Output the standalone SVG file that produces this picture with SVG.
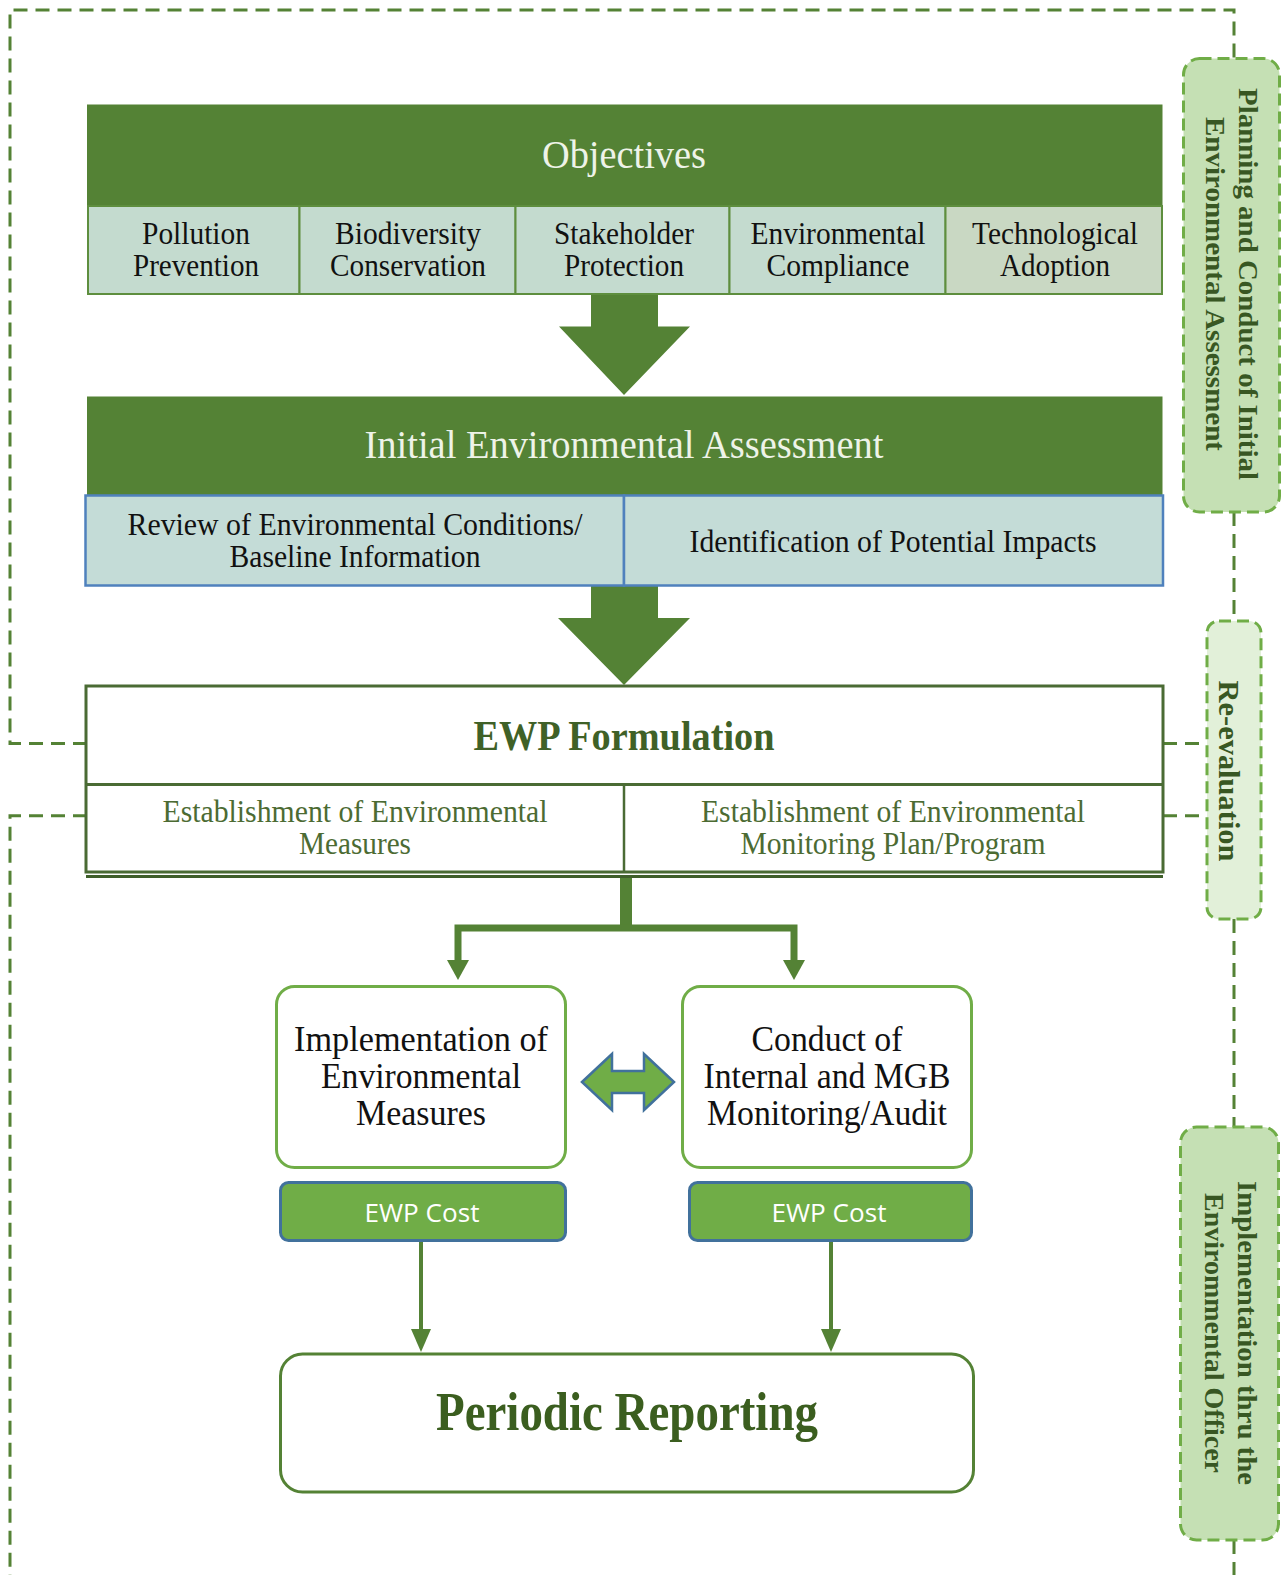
<svg xmlns="http://www.w3.org/2000/svg" width="1282" height="1575" viewBox="0 0 1282 1575">
<defs>
<style>
.serif{font-family:"Liberation Serif","Times New Roman",serif;}
.sans{font-family:"Open Sans","Liberation Sans",sans-serif;}
.c{text-anchor:middle;dominant-baseline:central;}
.hdr{fill:#548235;}
.cell{fill:#C4DBCF;stroke:#5E8E3E;stroke-width:2;}
.bcell{fill:#C4DCD7;stroke:#4F81BD;stroke-width:2.5;}
.dash{fill:none;stroke:#548235;stroke-width:3;stroke-dasharray:14 8;}
.side{stroke:#70AD47;stroke-width:3;stroke-dasharray:12 6;}
.stxt{font-family:"Liberation Serif","Times New Roman",serif;font-weight:bold;fill:#385723;}
.cost{fill:#70AD47;stroke:#41719C;stroke-width:3;}
.rbox{fill:#fff;stroke:#70AD47;stroke-width:3;}
.conn{stroke:#548235;fill:none;}
</style>
</defs>
<rect width="1282" height="1575" fill="#fff"/>

<g id="connectors">
<path class="dash" d="M87,743.5 H10 V10 H1234 V58"/>
<path class="dash" d="M87,815.8 H10 V1575"/>
<path class="dash" d="M1163,743.5 H1207"/>
<path class="dash" d="M1163,815.8 H1207"/>
<path class="dash" d="M1234,512 V621"/>
<path class="dash" d="M1234,919 V1127"/>
<path class="dash" d="M1234,1540 V1575"/>
<polygon fill="#548235" points="591,294 658,294 658,326.5 690,326.5 624,395 559,326.5 591,326.5"/>
<polygon fill="#548235" points="591,586 658,586 658,618 690,618 624,685 558,618 591,618"/>
<rect x="620" y="877" width="12" height="53" fill="#548235"/>
<path class="conn" stroke-width="7" d="M458,967 V928 H794 V967"/>
<polygon fill="#548235" points="447,960 469,960 458,980"/>
<polygon fill="#548235" points="783,960 805,960 794,980"/>
<path class="conn" stroke-width="4" d="M421,1241 V1334"/>
<path class="conn" stroke-width="4" d="M831,1241 V1334"/>
<polygon fill="#548235" points="411,1329 431,1329 421,1352"/>
<polygon fill="#548235" points="821,1329 841,1329 831,1352"/>
<polygon fill="#70AD47" stroke="#41719C" stroke-width="2.5" points="582,1082 612,1054 612,1071 644,1071 644,1054 674,1082 644,1110 644,1093 612,1093 612,1110"/>
</g>

<g id="objectives">
<rect class="hdr" x="87" y="104.5" width="1075.5" height="102"/>
<text class="serif c" x="624" y="154" font-size="40" fill="#EEF3E8" textLength="164" lengthAdjust="spacingAndGlyphs">Objectives</text>
<rect class="cell" x="88" y="206" width="211.5" height="88"/>
<rect class="cell" x="299.5" y="206" width="216" height="88"/>
<rect class="cell" x="515.5" y="206" width="214" height="88"/>
<rect class="cell" x="729.5" y="206" width="216" height="88"/>
<rect class="cell" x="945.5" y="206" width="216.5" height="88" style="fill:#C9D8C3"/>
<g class="serif c" font-size="31" fill="#111">
<text x="196" y="233" textLength="108" lengthAdjust="spacingAndGlyphs">Pollution</text>
<text x="196" y="265" textLength="126" lengthAdjust="spacingAndGlyphs">Prevention</text>
<text x="408" y="233" textLength="146" lengthAdjust="spacingAndGlyphs">Biodiversity</text>
<text x="408" y="265" textLength="156" lengthAdjust="spacingAndGlyphs">Conservation</text>
<text x="624" y="233" textLength="140" lengthAdjust="spacingAndGlyphs">Stakeholder</text>
<text x="624" y="265" textLength="120" lengthAdjust="spacingAndGlyphs">Protection</text>
<text x="838" y="233" textLength="175" lengthAdjust="spacingAndGlyphs">Environmental</text>
<text x="838" y="265" textLength="143" lengthAdjust="spacingAndGlyphs">Compliance</text>
<text x="1055" y="233" textLength="166" lengthAdjust="spacingAndGlyphs">Technological</text>
<text x="1055" y="265" textLength="110" lengthAdjust="spacingAndGlyphs">Adoption</text>
</g>
</g>

<g id="initial-assessment">
<rect class="hdr" x="87" y="396.5" width="1075.5" height="99"/>
<text class="serif c" x="624" y="444" font-size="41" fill="#EEF3E8" textLength="519" lengthAdjust="spacingAndGlyphs">Initial Environmental Assessment</text>
<rect class="bcell" x="85.5" y="495.5" width="538.5" height="90"/>
<rect class="bcell" x="624" y="495.5" width="539" height="90"/>
<g class="serif c" font-size="31" fill="#111">
<text x="355" y="524.5" textLength="455" lengthAdjust="spacingAndGlyphs">Review of Environmental Conditions/</text>
<text x="355" y="556.5" textLength="251" lengthAdjust="spacingAndGlyphs">Baseline Information</text>
<text x="893" y="541" textLength="407" lengthAdjust="spacingAndGlyphs">Identification of Potential Impacts</text>
</g>
</g>

<g id="ewp-formulation">
<rect x="86" y="686" width="1077" height="186" fill="#fff" stroke="#4A6B34" stroke-width="3"/>
<line x1="86" y1="784.5" x2="1163" y2="784.5" stroke="#4A6B34" stroke-width="3"/>
<line x1="624" y1="784.5" x2="624" y2="872" stroke="#4A6B34" stroke-width="2.5"/>
<line x1="86" y1="876.5" x2="1163" y2="876.5" stroke="#3F5F2A" stroke-width="3"/>
<text class="serif c" x="624" y="735.5" font-size="42" font-weight="bold" fill="#3F6127" textLength="301" lengthAdjust="spacingAndGlyphs">EWP Formulation</text>
<g class="serif c" font-size="31" fill="#4C6B33">
<text x="355" y="811.5" textLength="385" lengthAdjust="spacingAndGlyphs">Establishment of Environmental</text>
<text x="355" y="843.5" textLength="112" lengthAdjust="spacingAndGlyphs">Measures</text>
<text x="893" y="811.5" textLength="384" lengthAdjust="spacingAndGlyphs">Establishment of Environmental</text>
<text x="893" y="843.5" textLength="305" lengthAdjust="spacingAndGlyphs">Monitoring Plan/Program</text>
</g>
</g>

<g id="implementation">
<rect class="rbox" x="276.5" y="986.5" width="289" height="181" rx="18"/>
<g class="serif c" font-size="36" fill="#111">
<text x="421" y="1039" textLength="254" lengthAdjust="spacingAndGlyphs">Implementation of</text>
<text x="421" y="1076" textLength="200" lengthAdjust="spacingAndGlyphs">Environmental</text>
<text x="421" y="1113" textLength="130" lengthAdjust="spacingAndGlyphs">Measures</text>
</g>
</g>

<g id="monitoring">
<rect class="rbox" x="682.5" y="986.5" width="289" height="181" rx="18"/>
<g class="serif c" font-size="36" fill="#111">
<text x="827" y="1039" textLength="151" lengthAdjust="spacingAndGlyphs">Conduct of</text>
<text x="827" y="1076" textLength="247" lengthAdjust="spacingAndGlyphs">Internal and MGB</text>
<text x="827" y="1113" textLength="240" lengthAdjust="spacingAndGlyphs">Monitoring/Audit</text>
</g>
</g>

<g id="cost-left">
<rect class="cost" x="280.5" y="1182.5" width="285" height="58" rx="8"/>
<text class="sans c" x="422" y="1212" font-size="25" fill="#fff" textLength="115" lengthAdjust="spacingAndGlyphs">EWP Cost</text>
</g>
<g id="cost-right">
<rect class="cost" x="689.5" y="1182.5" width="282" height="58" rx="8"/>
<text class="sans c" x="829" y="1212" font-size="25" fill="#fff" textLength="115" lengthAdjust="spacingAndGlyphs">EWP Cost</text>
</g>

<g id="periodic-reporting">
<rect x="280.5" y="1354" width="693" height="138" rx="22" fill="#fff" stroke="#548235" stroke-width="3"/>
<text class="serif c" x="627" y="1412" font-size="54" font-weight="bold" fill="#3B5E1F" textLength="382" lengthAdjust="spacingAndGlyphs">Periodic Reporting</text>
</g>

<g id="phase-planning">
<rect class="side" x="1183.5" y="58.5" width="96" height="453.5" rx="16" fill="#C5E0B4"/>
<g transform="translate(1232,284) rotate(90)">
<text class="stxt c" x="0" y="-16" font-size="27" textLength="392" lengthAdjust="spacingAndGlyphs">Planning and Conduct of Initial</text>
<text class="stxt c" x="0" y="17" font-size="27" textLength="334" lengthAdjust="spacingAndGlyphs">Environmental Assessment</text>
</g>
</g>

<g id="phase-reevaluation">
<rect class="side" x="1207" y="621" width="54" height="298" rx="12" fill="#E2F0D9"/>
<g transform="translate(1229,771) rotate(90)">
<text class="stxt c" x="0" y="0" font-size="29" textLength="181" lengthAdjust="spacingAndGlyphs">Re-evaluation</text>
</g>
</g>

<g id="phase-implementation">
<rect class="side" x="1180.5" y="1127" width="98" height="413" rx="16" fill="#C5E0B4"/>
<g transform="translate(1231,1333) rotate(90)">
<text class="stxt c" x="0" y="-16" font-size="27" textLength="304" lengthAdjust="spacingAndGlyphs">Implementation thru the</text>
<text class="stxt c" x="0" y="17" font-size="27" textLength="280" lengthAdjust="spacingAndGlyphs">Envirommental Officer</text>
</g>
</g>
</svg>
